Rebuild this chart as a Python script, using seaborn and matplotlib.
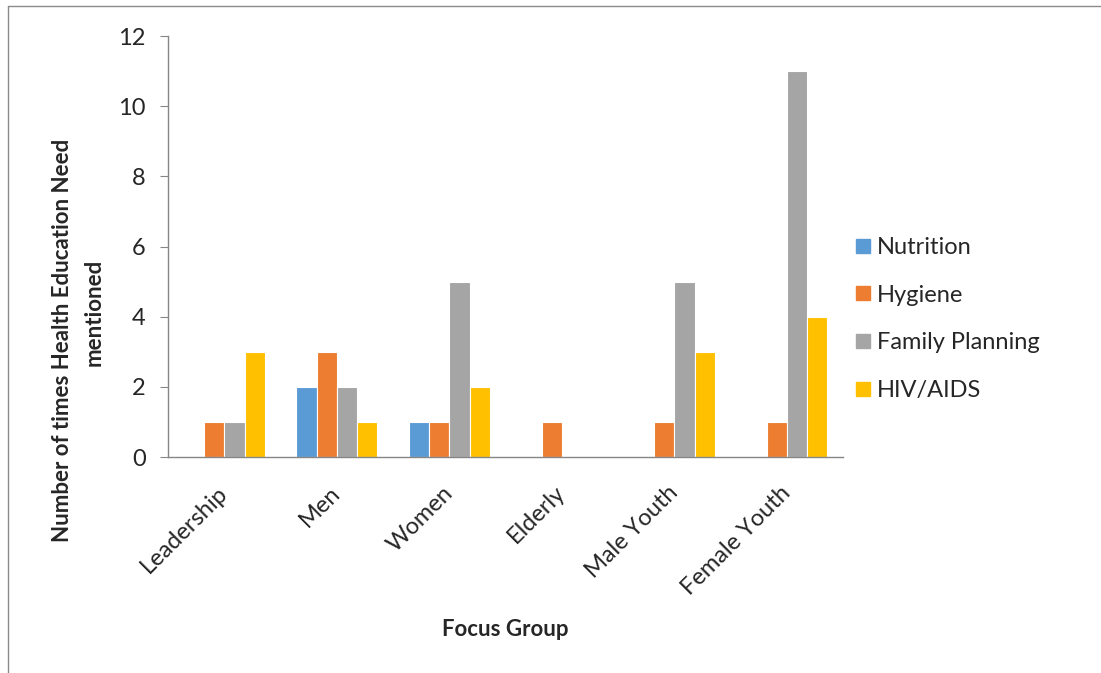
import matplotlib
matplotlib.use("Agg")
import matplotlib.pyplot as plt
import seaborn as sns
import pandas as pd
from matplotlib.lines import Line2D

# Focus groups and counts of each health education need
groups = ["Leadership", "Men", "Women", "Elderly", "Male Youth", "Female Youth"]
needs = ["Nutrition", "Hygiene", "Family Planning", "HIV/AIDS"]
nutrition = [0, 2, 1, 0, 0, 0]
hygiene = [1, 3, 1, 1, 1, 1]
family_planning = [1, 2, 5, 0, 5, 11]
hiv_aids = [3, 1, 2, 0, 3, 4]
colors = ["#5B9BD5", "#ED7D31", "#A5A5A5", "#FFC000"]

series = [nutrition, hygiene, family_planning, hiv_aids]
rows = []
for need, vals in zip(needs, series):
    for g, v in zip(groups, vals):
        rows.append({"Focus Group": g, "Need": need, "Count": v})
df = pd.DataFrame(rows)

sns.set_style("white")
plt.rcParams["font.family"] = ["Lato", "DejaVu Sans"]

W, H = 1101, 673
fig = plt.figure(figsize=(W / 100, H / 100), dpi=100)
ax = fig.add_axes([168 / W, 1 - 457 / H, (843 - 168) / W, (457 - 36) / H])

sns.barplot(data=df, x="Focus Group", y="Count", hue="Need", hue_order=needs,
            order=groups, palette=colors, saturation=1, width=0.72,
            edgecolor="white", linewidth=0.8, ax=ax, legend=False)

ax.set_ylim(0, 12)
ax.set_yticks(range(0, 13, 2))
ax.set_xlim(-0.5, 5.5)
for s in ["top", "right"]:
    ax.spines[s].set_visible(False)
for s in ["left", "bottom"]:
    ax.spines[s].set_color("#868686")
    ax.spines[s].set_linewidth(1.0)
ax.tick_params(axis="y", which="both", left=True, length=6, color="#868686",
               labelsize=17, pad=10)
ax.tick_params(axis="x", bottom=False, labelsize=17, pad=20)
plt.setp(ax.get_xticklabels(), rotation=45, ha="right", va="center",
         rotation_mode="anchor")

ax.set_xlabel("")
ax.set_ylabel("")

# Axis titles
fig.text(505 / W, 1 - 630 / H, "Focus Group", fontsize=16, fontweight="bold",
         ha="center", va="center")
fig.text(63 / W, 1 - 340 / H, "Number of times Health Education Need",
         fontsize=16, fontweight="bold", rotation=90, ha="center", va="center")
fig.text(94 / W, 1 - 312 / H, "mentioned", fontsize=16, fontweight="bold",
         rotation=90, ha="center", va="center")

handles = [Line2D([0], [0], marker="s", linestyle="none", markersize=10,
                  markerfacecolor=c, markeredgecolor=c) for c in colors]
fig.legend(handles, needs, loc="center left",
           bbox_to_anchor=(831 / W, 1 - 319 / H), frameon=False,
           fontsize=17, handletextpad=0.15, labelspacing=1.13, handlelength=0.9)

# Outer chart frame
fig.add_artist(Line2D([8 / W, 1.0], [1 - 6 / H, 1 - 6 / H],
                      transform=fig.transFigure, color="#8a8a8a", linewidth=1))
fig.add_artist(Line2D([8 / W, 8 / W], [1 - 6 / H, 0.0],
                      transform=fig.transFigure, color="#8a8a8a", linewidth=1))

fig.savefig("out.png", dpi=100)
